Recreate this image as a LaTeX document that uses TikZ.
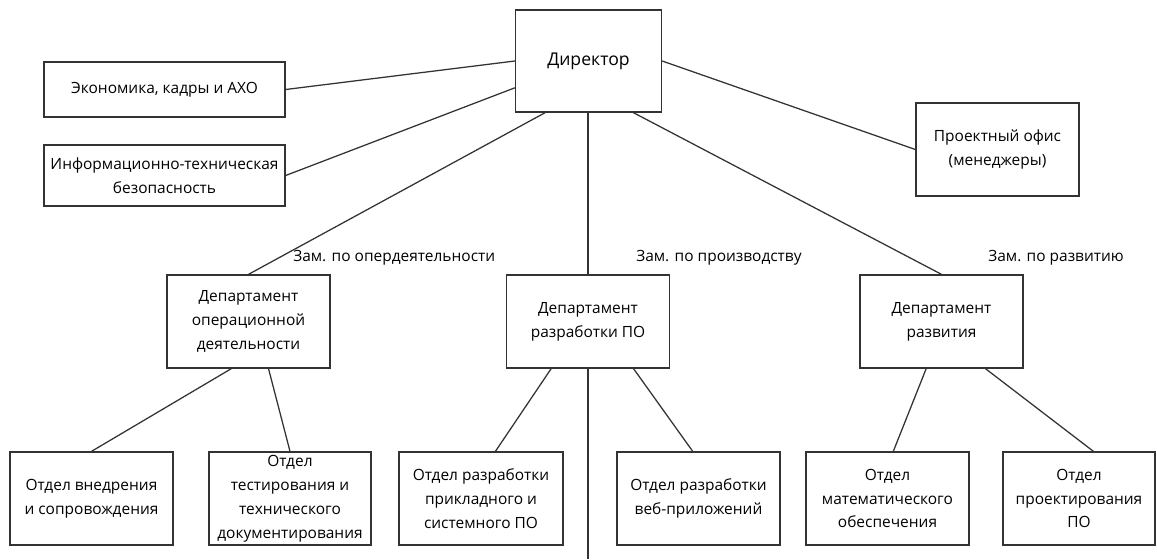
\documentclass[tikz,border=0pt]{standalone}
\usepackage{fontspec}
\setmainfont{Open Sans}
\usepackage{tikz}

\definecolor{linegray}{HTML}{333333}

\tikzset{
	unit/.style={draw=linegray, line width=0.9pt, align=center, inner sep=0pt,
		minimum width=4.075cm, minimum height=2.325cm,
		font=\fontsize{11}{17}\selectfont},
	deputy/.style={anchor=west, inner sep=0pt, font=\fontsize{11}{17}\selectfont},
	link/.style={draw=linegray, line width=0.9pt}
}

\begin{document}
\begin{tikzpicture}[x=0.025cm, y=-0.025cm]
	\useasboundingbox (0,0) rectangle (1157,559);

	\node[unit, minimum width=3.65cm, minimum height=2.55cm, font=\fontsize{12.5}{17}\selectfont] (dir) at (588.5,61) {Директор};
	\node[unit, minimum width=6.025cm, minimum height=1.375cm] (econ) at (164.5,89.5) {Экономика, кадры и АХО};
	\node[unit, minimum width=6.025cm, minimum height=1.525cm] (info) at (164.5,175.5) {Информационно-техническая\\безопасность};
	\node[unit] (office) at (997.5,149.5) {Проектный офис\\(менеджеры)};

	\node[unit] (op) at (248.5,321.5) {Департамент\\операционной\\деятельности};
	\node[unit] (sw) at (588,321.5) {Департамент\\разработки ПО};
	\node[unit] (dev) at (941.5,321.5) {Департамент\\развития};

	\node[deputy] (zop) at (293,258) {Зам. по опердеятельности};
	\node[deputy] (zsw) at (636,258) {Зам. по производству};
	\node[deputy] (zdev) at (988,258) {Зам. по развитию};

	\node[unit] (impl) at (91.5,498.5) {Отдел внедрения\\и сопровождения};
	\node[unit, minimum width=4.05cm] (test) at (290,498.5) {Отдел\\тестирования и\\технического\\документирования};
	\node[unit, minimum width=4.1cm] (appsys) at (481,498.5) {Отдел разработки\\прикладного и\\системного ПО};
	\node[unit] (web) at (698.5,498.5) {Отдел разработки\\веб-приложений};
	\node[unit] (math) at (887.5,498.5) {Отдел\\математического\\обеспечения};
	\node[unit, minimum width=3.8cm] (design) at (1079,498.5) {Отдел\\проектирования\\ПО};

	\coordinate (down) at (588,559);

	\path [link] (econ.east) edge (dir.west);
	\path [link] (info.east) edge (dir.200);
	\path [link] (dir.east) edge (office.west);
	\path [link] (dir.230) edge (op.north);
	\path [link] (dir.south -| sw.north) edge (sw.north);
	\path [link] (dir.311) edge (dev.north);

	\path [link] (op.250) edge (impl.north);
	\path [link] (op.293) edge (test.north);
	\path [link] (sw.232) edge (appsys.73);
	\path [link] (sw.314) edge (web.97);
	\path [link] (sw.south) edge (down);
	\path [link] (dev.252) edge (math.83);
	\path [link] (dev.313) edge (design.73);
\end{tikzpicture}
\end{document}
